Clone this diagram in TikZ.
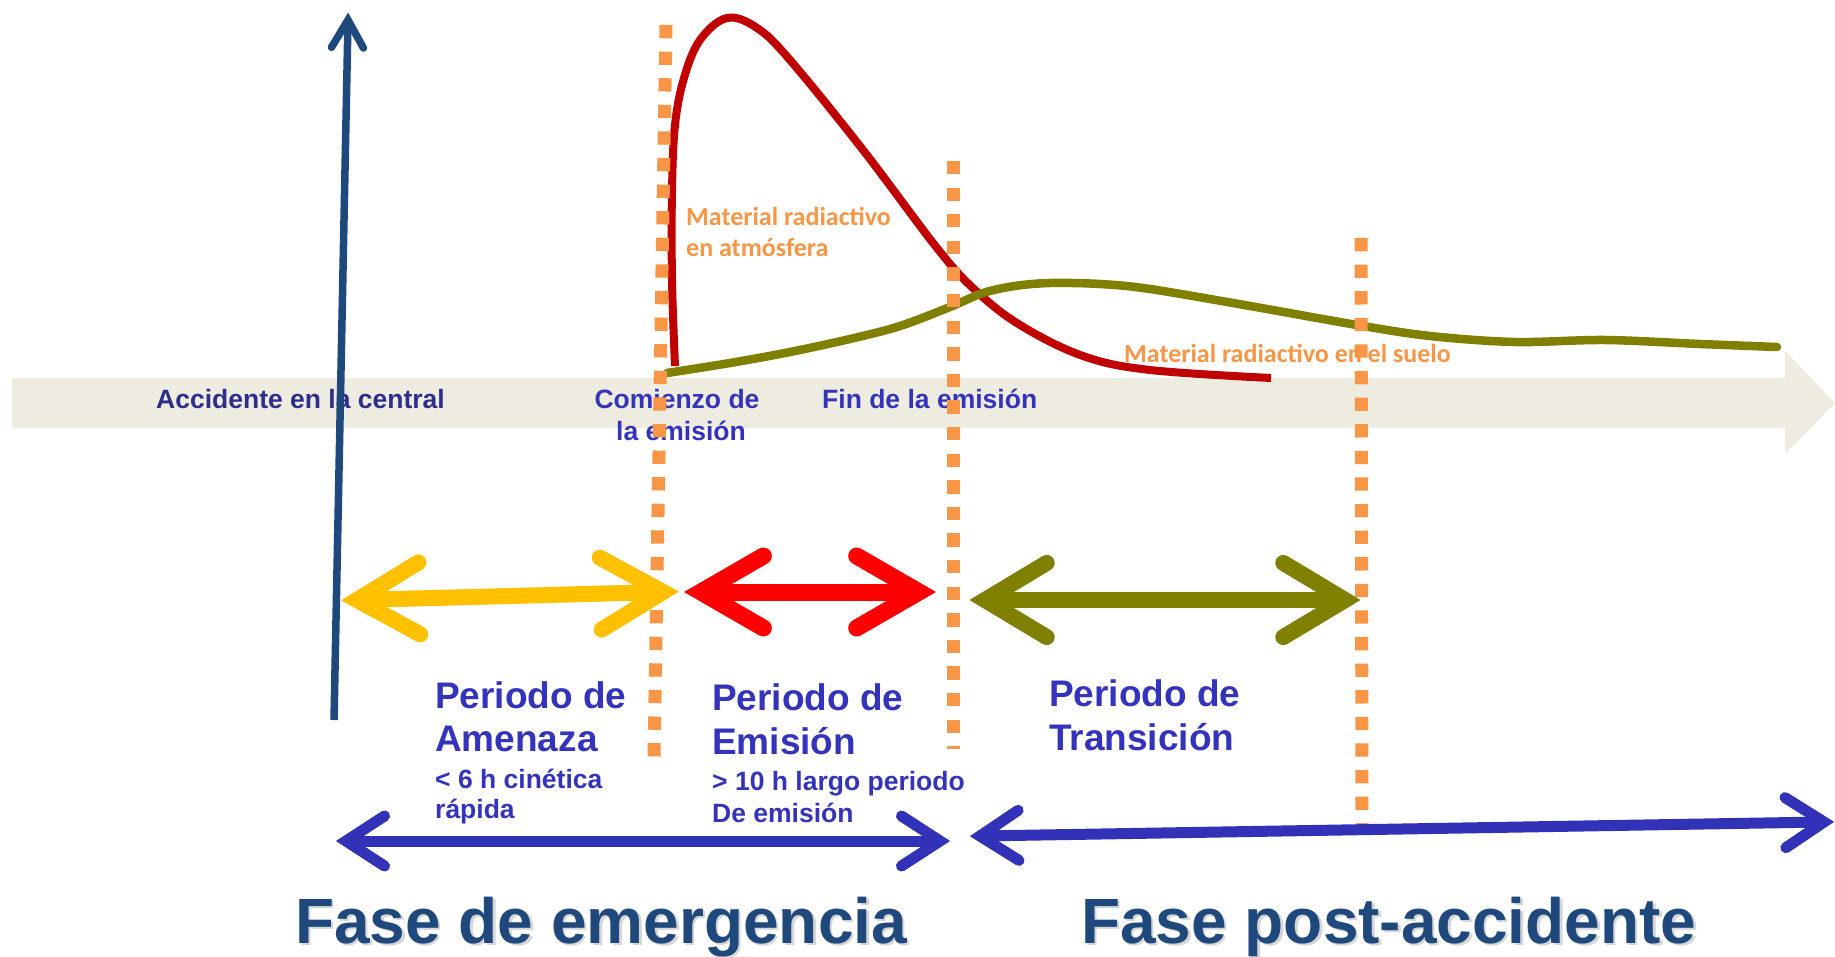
\documentclass[tikz,border=0pt]{standalone}
\usepackage{fontspec}
\setmainfont{Liberation Sans}
\newfontfamily\calib{Carlito}
\usetikzlibrary{calc}
\definecolor{beige}{HTML}{EEECE1}
\definecolor{orng}{HTML}{F79646}
\definecolor{dkred}{HTML}{C00000}
\definecolor{olv}{HTML}{808000}
\definecolor{ylw}{HTML}{FFC000}
\definecolor{rd}{HTML}{FF0000}
\definecolor{bluearr}{RGB}{50,50,185}
\definecolor{bluetxt}{RGB}{51,51,187}
\definecolor{navytxt}{RGB}{45,45,140}
\definecolor{axisblue}{HTML}{1F497D}
\newcommand\dblarrow[5]{%
  \draw[#1, line cap=butt] (#2) -- (#3);
  \draw[#1, line cap=round, line join=miter, miter limit=20] ($(#2)!#4!#5:(#3)$) -- (#2) -- ($(#2)!#4!-#5:(#3)$);
  \draw[#1, line cap=round, line join=miter, miter limit=20] ($(#3)!#4!#5:(#2)$) -- (#3) -- ($(#3)!#4!-#5:(#2)$);
}
\tikzset{
  lbl/.style={inner sep=0pt, anchor=base west, text=bluetxt, font=\bfseries\fontsize{26.5}{30}\selectfont},
  big/.style={inner sep=0pt, anchor=base west, text=bluetxt, font=\bfseries\fontsize{37}{42}\selectfont},
  fase/.style={inner sep=0pt, anchor=base west, text=axisblue, font=\bfseries\fontsize{64}{70}\selectfont},
  shadow/.style={inner sep=0pt, anchor=base west, text=black!16, font=\bfseries\fontsize{64}{70}\selectfont},
  orlbl/.style={inner sep=0pt, anchor=base west, text=orng, font=\calib\bfseries\fontsize{26}{30}\selectfont},
  dotline/.style={orng, line width=13pt, dash pattern=on 13.3pt off 13.3pt, line cap=butt},
  ya/.style={ylw, line width=16pt},
  ra/.style={rd, line width=17pt},
  ga/.style={olv, line width=16pt},
  ba/.style={bluearr, line width=11pt},
}
\begin{document}
\begin{tikzpicture}[x=1pt, y=-1pt]
\fill[white] (0,0) rectangle (1835,957);
\useasboundingbox (0,0) rectangle (1835,957);
% time band
\fill[beige] (12,378) -- (1785,378) -- (1785,351) -- (1835,403) -- (1785,454) -- (1785,428) -- (12,428) -- cycle;
\node[lbl, text=navytxt] (acc) at (156,408) {Accidente en la central};
\node[lbl, anchor=base] (com1) at (677,408) {Comienzo de};
\node[lbl, anchor=base] (com2) at (681,440) {la emisión};
\node[lbl] (fin) at (822,408) {Fin de la emisión};
\node[orlbl] (atm1) at (686,226) {Material radiactivo};
\node[orlbl] (atm2) at (686,257) {en atmósfera};
\node[orlbl] (suelo) at (1124,362) {Material radiactivo en el suelo};
% curves
\draw[dkred, line width=8pt, line cap=butt] plot[smooth, tension=0.6] coordinates {(675,366) (672,280) (672,190) (675,125) (684,78) (700,40) (727,18) (757,28) (790,60) (863,150) (937,248) (975,290) (1020,325) (1083,356) (1150,370) (1271,378)};
\draw[olv, line width=8.5pt, line cap=round] plot[smooth, tension=0.55] coordinates {(667,373) (730,363) (790,352) (850,339) (900,326) (950,307) (983,293) (1015,286) (1050,283) (1100,284) (1150,289) (1250,306) (1357,325) (1430,336) (1515,342) (1605,340) (1700,344) (1777,347)};
% dotted lines
\draw[dotline] (666,25) -- (654,758);
\draw[dotline] (953,161) -- (953,749);
\draw[dotline] (1361,238) -- (1362,827);
% vertical axis
\coordinate (axb) at (334,720);
\coordinate (axt) at (348,20);
\draw[axisblue, line width=7.5pt, line cap=butt] (axb) -- (axt);
\draw[axisblue, line width=7.5pt, line cap=round, line join=miter] ($(axt)!32pt!30:(axb)$) -- (axt) -- ($(axt)!32pt!-30:(axb)$);
% period arrows
\coordinate (y1) at (357,600); \coordinate (y2) at (663,592);
\dblarrow{ya}{y1}{y2}{72pt}{30}
\coordinate (r1) at (701,592); \coordinate (r2) at (919,592);
\dblarrow{ra}{r1}{r2}{72pt}{30}
\coordinate (g1) at (985,600); \coordinate (g2) at (1345,600);
\dblarrow{ga}{g1}{g2}{72pt}{31}
% phase arrows
\coordinate (b1) at (346,841); \coordinate (b2) at (940,841);
\dblarrow{ba}{b1}{b2}{46pt}{33}
\coordinate (b3) at (980,836); \coordinate (b4) at (1824,822);
\dblarrow{ba}{b3}{b4}{46pt}{33}
% period labels
\node[big] (pa1) at (435,708) {Periodo de};
\node[big] (pa2) at (435,751) {Amenaza};
\node[lbl] (pa3) at (435,788) {< 6 h cinética};
\node[lbl] (pa4) at (435,818) {rápida};
\node[big] (pe1) at (712,710) {Periodo de};
\node[big] (pe2) at (712,754) {Emisión};
\node[lbl] (pe3) at (712,790) {> 10 h largo periodo};
\node[lbl] (pe4) at (712,822) {De emisión};
\node[big] (pt1) at (1049,706) {Periodo de};
\node[big] (pt2) at (1049,750) {Transición};
% phases
\node[shadow] at (297.5,945.5) {Fase de emergencia};
\node[fase] (fe) at (295,943) {Fase de emergencia};
\node[shadow] at (1083.5,945.5) {Fase post-accidente};
\node[fase] (fp) at (1081,943) {Fase post-accidente};
\end{tikzpicture}
\end{document}
